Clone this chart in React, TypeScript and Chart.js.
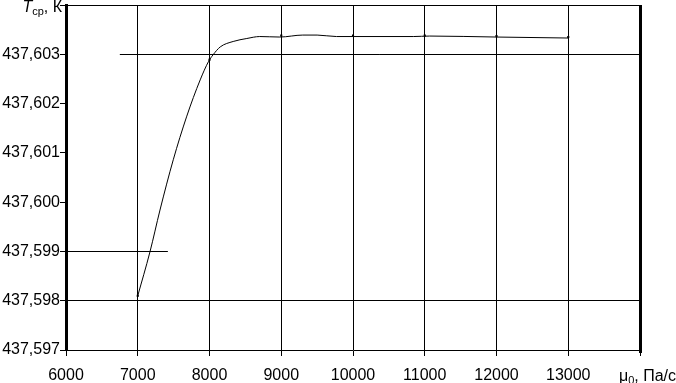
import React, { useEffect, useRef } from "react";
import { Chart, registerables } from "chart.js";

Chart.register(...registerables);

// Curve: viscosity μ0 (Pa/s) vs mean temperature Tср (K)
const muValues = [7000, 7170, 7310, 7495, 7680, 7870, 7985, 8050, 8150, 8330, 8520, 8700, 8980, 9300, 9500, 9770, 10000, 10840, 11070, 12000, 13000];
const tValues = [437.5981, 437.59899, 437.59984, 437.60086, 437.60173, 437.60248, 437.60285, 437.60299, 437.60315, 437.60326, 437.60332, 437.60336, 437.60335, 437.60339, 437.60339, 437.60336, 437.60336, 437.60336, 437.60337, 437.60335, 437.60333];

// Calculated points (small marks on the curve)
const markerMu = [7000, 8000, 9000, 10000, 11000, 12000, 13000];
const markerT = [437.5981, 437.60289, 437.60338, 437.60338, 437.60338, 437.60337, 437.60335];

// Axis ranges
const xMin = 6000;
const xMax = 14000;
const xStep = 1000;
const yMin = 437.597;
const yMax = 437.604;
const yStep = 0.001;

// Grid lines as they appear in the reference
const fullGridX = [7000, 8000, 9000, 10000, 11000, 12000, 13000];
const fullGridY = [437.598];
const partialGridY = [437.599, 437.603];
const partialGridFrom = [6000, 6750];
const partialGridTo = [7420, 14000];

const FONT = '"Liberation Sans", Arial, sans-serif';

const near = (a: number, b: number, eps: number) => Math.abs(a - b) < eps;

const framePlugin = {
  id: "frame",
  beforeDatasetsDraw(chart: any) {
    const { ctx, scales } = chart;
    const xs = scales.x;
    const ys = scales.y;
    ctx.save();
    ctx.strokeStyle = "#000";
    ctx.lineWidth = 1;
    partialGridY.forEach((v, i) => {
      const py = Math.round(ys.getPixelForValue(v)) + 0.5;
      ctx.beginPath();
      ctx.moveTo(xs.getPixelForValue(partialGridFrom[i]), py);
      ctx.lineTo(xs.getPixelForValue(partialGridTo[i]), py);
      ctx.stroke();
    });
    ctx.restore();
  },
  afterDraw(chart: any) {
    const { ctx, chartArea } = chart;
    const { left, right, top, bottom } = chartArea;
    ctx.save();
    ctx.strokeStyle = "#000";
    // top border
    ctx.lineWidth = 1;
    ctx.beginPath();
    ctx.moveTo(left, Math.round(top) + 0.5);
    ctx.lineTo(right, Math.round(top) + 0.5);
    ctx.stroke();
    // right border (thick)
    ctx.lineWidth = 3;
    ctx.beginPath();
    ctx.moveTo(Math.round(right) + 0.5, top);
    ctx.lineTo(Math.round(right) + 0.5, bottom + 3);
    ctx.stroke();

    ctx.fillStyle = "#000";
    ctx.textBaseline = "alphabetic";
    // Y axis title: Tср, К
    const big = `16px ${FONT}`;
    const ital = `italic 16px ${FONT}`;
    const small = `11px ${FONT}`;
    const yParts: [string, string, number][] = [
      ["T", ital, 0],
      ["ср", small, 3],
      [", К", big, 0],
    ];
    let w = 0;
    yParts.forEach(([t, f]) => {
      ctx.font = f;
      w += ctx.measureText(t).width;
    });
    let x = left - 4 - w;
    const yBase = top + 7;
    yParts.forEach(([t, f, dy]) => {
      ctx.font = f;
      ctx.fillText(t, x, yBase + dy);
      x += ctx.measureText(t).width;
    });

    // X axis title: μ0, Па/с
    const xParts: [string, string, number][] = [
      ["μ", big, 0],
      ["0", small, 3],
      [", Па/с", big, 0],
    ];
    w = 0;
    xParts.forEach(([t, f]) => {
      ctx.font = f;
      w += ctx.measureText(t).width;
    });
    x = chart.width - w;
    const xBase = bottom + 31;
    xParts.forEach(([t, f, dy]) => {
      ctx.font = f;
      ctx.fillText(t, x, xBase + dy);
      x += ctx.measureText(t).width;
    });
    ctx.restore();
  },
};

export default function App() {
  const ref = useRef<HTMLCanvasElement | null>(null);

  useEffect(() => {
    if (!ref.current) return;
    const curve = muValues.map((m, i) => ({ x: m, y: tValues[i] }));
    const marks = markerMu.map((m, i) => ({ x: m, y: markerT[i] }));
    const chart = new Chart(ref.current, {
      type: "line",
      data: {
        datasets: [
          {
            data: curve,
            borderColor: "#000",
            borderWidth: 1,
            pointRadius: 0,
            cubicInterpolationMode: "monotone",
            fill: false,
          },
          {
            data: marks,
            showLine: false,
            pointStyle: "rect",
            pointRadius: 1.5,
            pointBackgroundColor: "#000",
            pointBorderColor: "#000",
            pointBorderWidth: 0,
          },
        ],
      },
      options: {
        animation: false,
        responsive: false,
        events: [],
        layout: { padding: { left: 0, right: 36, top: 5, bottom: 0 } },
        plugins: {
          legend: { display: false },
          tooltip: { enabled: false },
          title: { display: false },
        },
        scales: {
          x: {
            type: "linear",
            min: xMin,
            max: xMax,
            afterFit: (s: any) => {
              s.height = 33;
              s.paddingLeft = 0;
              s.paddingRight = 0;
            },
            border: { display: true, color: "#000", width: 1 },
            grid: {
              color: (c: any) =>
                c.tick && fullGridX.some((v) => near(v, c.tick.value, 1)) ? "#000" : "rgba(0,0,0,0)",
              tickColor: "#000",
              tickLength: 6,
              lineWidth: 1,
            },
            ticks: {
              stepSize: xStep,
              autoSkip: false,
              maxRotation: 0,
              padding: 10,
              color: "#000",
              font: { family: FONT, size: 16 },
              callback: (v: any) => (near(Number(v), xMax, 1) ? "" : String(v)),
            },
          },
          y: {
            type: "linear",
            min: yMin,
            max: yMax,
            afterFit: (s: any) => {
              s.width = 66;
              s.paddingTop = 0;
              s.paddingBottom = 0;
            },
            border: { display: true, color: "#000", width: 3 },
            grid: {
              color: (c: any) =>
                c.tick && fullGridY.some((v) => near(v, c.tick.value, 1e-5)) ? "#000" : "rgba(0,0,0,0)",
              tickColor: "#000",
              tickLength: 6,
              lineWidth: 1,
            },
            ticks: {
              stepSize: yStep,
              autoSkip: false,
              padding: 0,
              color: "#000",
              font: { family: FONT, size: 16 },
              callback: (v: any) =>
                near(Number(v), yMax, 1e-5) ? "" : Number(v).toFixed(3).replace(".", ","),
            },
          },
        },
      },
      plugins: [framePlugin],
    } as any);
    return () => chart.destroy();
  }, []);

  return (
    <div style={{ position: "absolute", left: 0, top: 0, width: 676, height: 383, background: "#fff" }}>
      <canvas ref={ref} width={676} height={383} style={{ display: "block" }} />
    </div>
  );
}
